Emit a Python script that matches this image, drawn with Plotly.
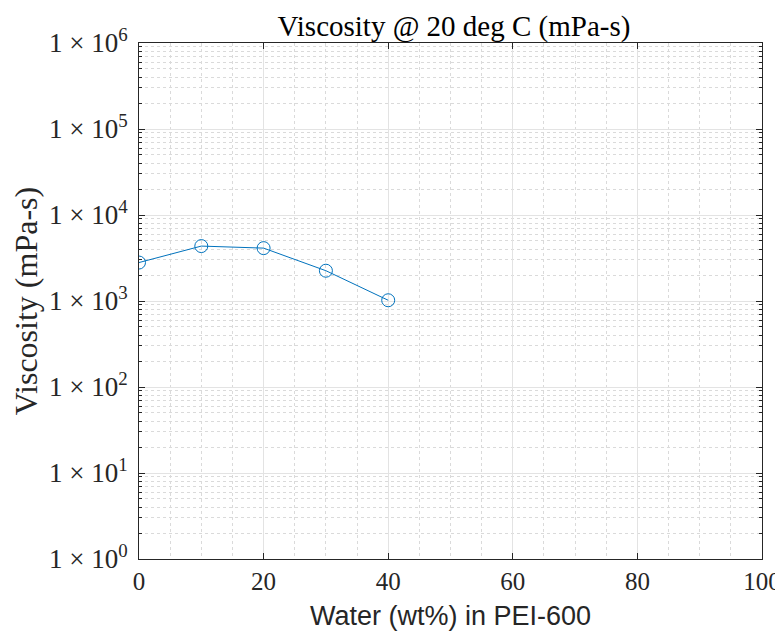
import plotly.graph_objects as go

water_wt = [0, 10, 20, 30, 40]
viscosity = [2800, 4350, 4120, 2250, 1020]

x_ticks = [0, 20, 40, 60, 80, 100]
y_exponents = [0, 1, 2, 3, 4, 5, 6]
y_tickvals = [10 ** e for e in y_exponents]
y_ticktext = ["1 × 10<sup>%d</sup>" % e for e in y_exponents]
y_minor = [m * 10 ** e for e in y_exponents[:-1] for m in range(2, 10)]

fig = go.Figure()
fig.add_trace(go.Scatter(
    x=water_wt, y=viscosity, mode="lines+markers",
    line=dict(color="#0072BD", width=1),
    marker=dict(symbol="circle-open", size=13, color="#0072BD", line=dict(width=1)),
    showlegend=False,
))

serif = "Liberation Serif, Times New Roman, serif"
axcol = "#262626"

# page body adds an 8px offset, so the figure is sized to fit the window
fig.update_layout(
    width=775, height=623,
    margin=dict(l=131, r=21, t=35, b=72),
    paper_bgcolor="white", plot_bgcolor="white",
    title=dict(text="Viscosity @ 20 deg C (mPa-s)", x=0.5755, xanchor="center",
               y=0.972, yanchor="middle",
               font=dict(family=serif, size=29, color="black")),
    xaxis=dict(
        range=[0, 100], tickvals=x_ticks, ticktext=[str(v) for v in x_ticks],
        automargin=False,
        showline=True, linecolor=axcol, linewidth=1, mirror="ticks",
        ticks="inside", ticklen=6, tickcolor=axcol,
        showgrid=True, gridcolor="#e3e3e3", gridwidth=1,
        zeroline=False,
        tickfont=dict(family=serif, size=25, color=axcol),
        title=dict(text="Water (wt%) in PEI-600",
                   font=dict(family="Liberation Sans, Arial, sans-serif", size=27, color=axcol),
                   standoff=12),
        minor=dict(dtick=5, tick0=0, ticks="", showgrid=True,
                   gridcolor="#dadada", griddash="dot", gridwidth=1),
    ),
    yaxis=dict(
        type="log", range=[0, 6], tickvals=y_tickvals, ticktext=y_ticktext,
        automargin=False,
        showline=True, linecolor=axcol, linewidth=1, mirror="ticks",
        ticks="inside", ticklen=6, tickcolor=axcol,
        ticklabelstandoff=5,
        showgrid=True, gridcolor="#e3e3e3", gridwidth=1,
        zeroline=False,
        tickfont=dict(family=serif, size=27, color=axcol),
        title=dict(text="Viscosity (mPa-s)",
                   font=dict(family=serif, size=32, color=axcol),
                   standoff=4),
        minor=dict(tickvals=y_minor, ticks="inside", ticklen=3, tickcolor=axcol,
                   showgrid=True, gridcolor="#dadada", griddash="dot", gridwidth=1),
    ),
)

fig.write_html("out.html")
